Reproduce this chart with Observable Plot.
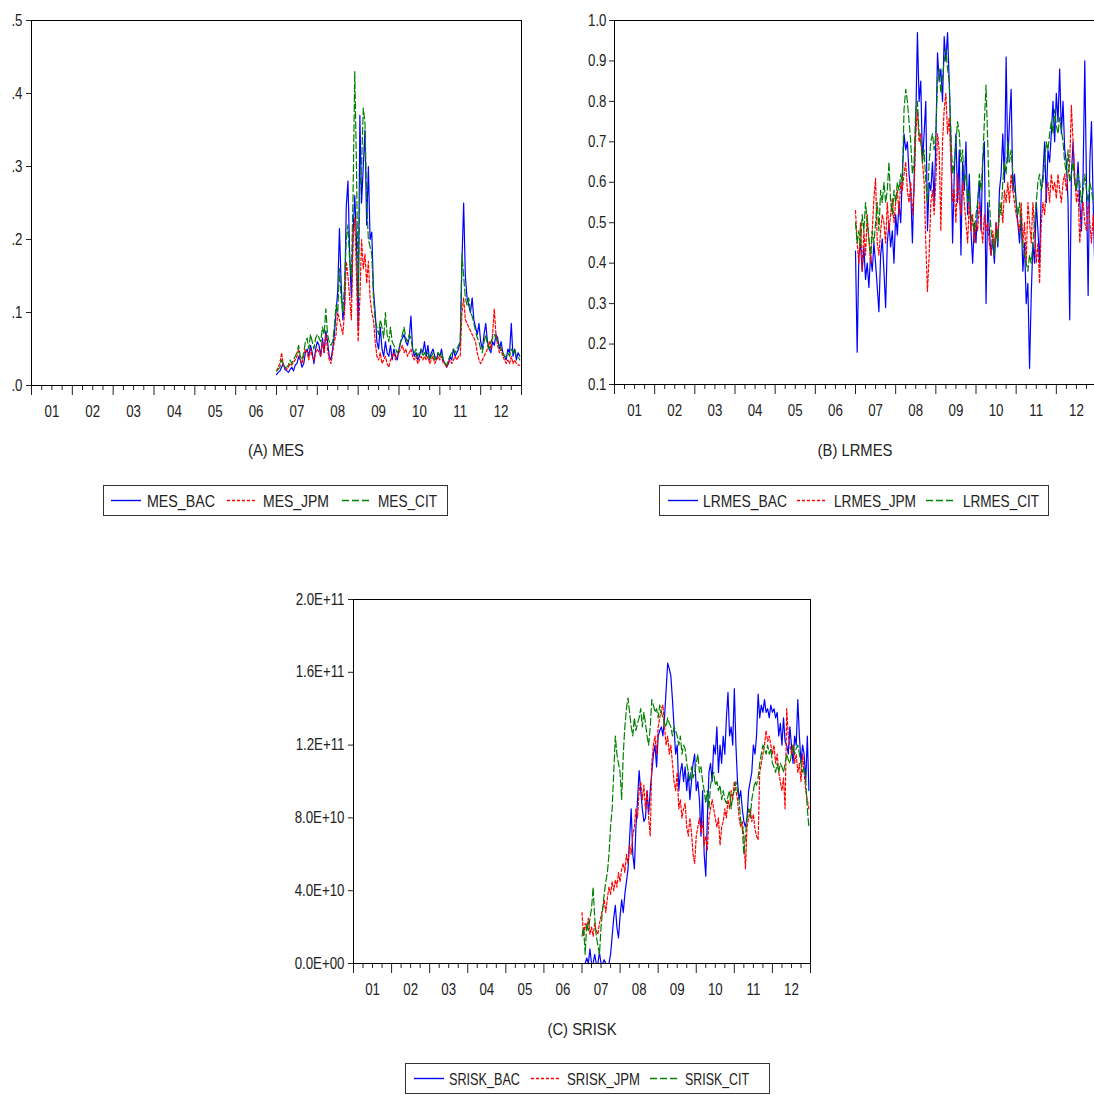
<!DOCTYPE html>
<html><head><meta charset="utf-8">
<script src="https://cdn.jsdelivr.net/npm/d3@7"></script>
<script src="https://cdn.jsdelivr.net/npm/@observablehq/plot@0.6"></script>
<style>
html,body{margin:0;padding:0;background:#fff;}
body{width:1094px;height:1096px;overflow:hidden;position:relative;font-family:"Liberation Sans",Arial,sans-serif;color:#222;}
.title{position:absolute;font-size:17px;transform:translateX(-50%) scaleX(0.87);transform-origin:50% 50%;white-space:nowrap;}
.legend{position:absolute;overflow:visible;}
.legend text{font-family:"Liberation Sans",Arial,sans-serif;font-size:17px;fill:#222;}
</style></head><body>
<script>
const FONT = '"Liberation Sans",Arial,sans-serif';
const SQUEEZE = 0.83; // the original uses a narrow typeface
// semi-monthly observations starting Jan 2007
const START_YEAR = 2007, STEP = 1 / 24;
const yearLabels = ["01","02","03","04","05","06","07","08","09","10","11","12"];

const mesTicks = [0, 0.1, 0.2, 0.3, 0.4, 0.5];
const mesTickLabels = [".0", ".1", ".2", ".3", ".4", ".5"];
const lrTicks = [0.1, 0.2, 0.3, 0.4, 0.5, 0.6, 0.7, 0.8, 0.9, 1.0];
const lrTickLabels = ["0.1","0.2","0.3","0.4","0.5","0.6","0.7","0.8","0.9","1.0"];
const srTicks = [0, 4e10, 8e10, 1.2e11, 1.6e11, 2e11];
const srTickLabels = ["0.0E+00","4.0E+10","8.0E+10","1.2E+11","1.6E+11","2.0E+11"];

const MES_BAC = [
0.015,0.018,0.02,0.025,0.03,0.022,0.02,0.018,0.022,0.025,0.02,0.028,0.03,0.04,0.035,0.025,0.03,0.045,0.05,0.04,0.055,0.045,0.03,0.05,
0.06,0.055,0.04,0.065,0.045,0.075,0.06,0.04,0.035,0.05,0.07,0.1,0.13,0.215,0.14,0.09,0.11,0.245,0.28,0.18,0.12,0.21,0.26,0.2,
0.08,0.37,0.25,0.3,0.35,0.22,0.3,0.2,0.21,0.13,0.1,0.06,0.05,0.08,0.05,0.04,0.06,0.045,0.04,0.055,0.035,0.05,0.04,0.035,
0.05,0.06,0.065,0.07,0.06,0.055,0.065,0.095,0.05,0.04,0.045,0.035,0.04,0.05,0.045,0.06,0.04,0.055,0.035,0.045,0.05,0.04,0.035,0.045,
0.04,0.05,0.035,0.03,0.025,0.03,0.04,0.035,0.05,0.04,0.045,0.05,0.06,0.17,0.25,0.15,0.12,0.11,0.1,0.12,0.09,0.08,0.07,0.085,
0.06,0.05,0.07,0.085,0.06,0.05,0.045,0.06,0.055,0.07,0.065,0.05,0.06,0.045,0.04,0.035,0.05,0.045,0.085,0.04,0.05,0.035,0.045,0.04];
const MES_JPM = [
0.02,0.025,0.03,0.045,0.028,0.025,0.022,0.025,0.03,0.028,0.032,0.035,0.04,0.05,0.035,0.03,0.04,0.05,0.045,0.035,0.05,0.04,0.035,0.045,
0.05,0.045,0.04,0.06,0.045,0.07,0.05,0.035,0.03,0.045,0.06,0.07,0.1,0.09,0.08,0.07,0.1,0.17,0.15,0.12,0.09,0.2,0.23,0.15,
0.06,0.12,0.2,0.16,0.18,0.14,0.17,0.12,0.1,0.09,0.06,0.04,0.035,0.045,0.03,0.035,0.04,0.03,0.025,0.035,0.04,0.045,0.035,0.04,
0.045,0.05,0.055,0.045,0.05,0.04,0.045,0.05,0.04,0.035,0.04,0.03,0.035,0.04,0.035,0.04,0.035,0.04,0.03,0.035,0.04,0.03,0.035,0.04,
0.035,0.04,0.03,0.03,0.025,0.03,0.035,0.03,0.035,0.04,0.035,0.04,0.04,0.1,0.12,0.09,0.085,0.08,0.075,0.07,0.065,0.06,0.045,0.035,
0.03,0.035,0.04,0.045,0.05,0.06,0.05,0.07,0.105,0.07,0.055,0.045,0.05,0.04,0.035,0.03,0.035,0.03,0.04,0.03,0.035,0.03,0.028,0.028];
const MES_CIT = [
0.02,0.022,0.025,0.035,0.03,0.025,0.025,0.028,0.035,0.03,0.035,0.04,0.045,0.055,0.04,0.035,0.045,0.06,0.065,0.05,0.07,0.06,0.05,0.065,
0.07,0.065,0.06,0.08,0.07,0.105,0.07,0.06,0.055,0.06,0.08,0.11,0.1,0.16,0.12,0.1,0.14,0.2,0.22,0.17,0.15,0.26,0.43,0.3,
0.12,0.27,0.3,0.38,0.36,0.25,0.2,0.19,0.18,0.12,0.09,0.08,0.07,0.09,0.08,0.065,0.1,0.07,0.06,0.08,0.06,0.055,0.05,0.045,
0.05,0.06,0.07,0.08,0.065,0.06,0.07,0.065,0.05,0.045,0.05,0.04,0.045,0.05,0.04,0.045,0.04,0.045,0.035,0.04,0.045,0.035,0.04,0.045,
0.04,0.045,0.035,0.03,0.028,0.035,0.04,0.045,0.05,0.045,0.05,0.055,0.06,0.18,0.15,0.12,0.11,0.12,0.1,0.095,0.085,0.075,0.065,0.06,
0.05,0.045,0.06,0.07,0.055,0.05,0.06,0.065,0.07,0.065,0.06,0.055,0.05,0.045,0.04,0.04,0.045,0.04,0.05,0.045,0.05,0.04,0.04,0.035];

const LRMES_BAC = [
0.43,0.18,0.42,0.45,0.38,0.44,0.36,0.40,0.34,0.42,0.38,0.45,0.40,0.34,0.28,0.42,0.46,0.38,0.29,0.45,0.50,0.44,0.48,0.40,
0.52,0.47,0.55,0.50,0.62,0.72,0.68,0.70,0.62,0.58,0.45,0.60,0.75,0.97,0.80,0.85,0.65,0.72,0.80,0.48,0.60,0.58,0.65,0.55,
0.70,0.92,0.85,0.88,0.80,0.96,0.90,0.97,0.85,0.70,0.45,0.62,0.72,0.55,0.68,0.42,0.65,0.58,0.70,0.52,0.62,0.48,0.40,0.50,
0.45,0.55,0.60,0.48,0.65,0.70,0.30,0.55,0.48,0.42,0.46,0.40,0.50,0.44,0.58,0.62,0.72,0.60,0.91,0.65,0.75,0.83,0.58,0.62,
0.55,0.50,0.45,0.52,0.38,0.45,0.30,0.35,0.14,0.32,0.45,0.40,0.55,0.48,0.40,0.58,0.62,0.70,0.55,0.68,0.65,0.72,0.80,0.70,
0.82,0.75,0.88,0.72,0.80,0.68,0.65,0.55,0.26,0.62,0.70,0.60,0.58,0.65,0.55,0.48,0.62,0.90,0.60,0.32,0.65,0.75,0.55,0.38];
const LRMES_JPM = [
0.53,0.45,0.40,0.50,0.38,0.48,0.42,0.52,0.46,0.40,0.48,0.56,0.61,0.45,0.42,0.48,0.52,0.50,0.45,0.55,0.48,0.52,0.56,0.50,
0.55,0.58,0.52,0.60,0.58,0.62,0.65,0.58,0.55,0.60,0.52,0.58,0.72,0.78,0.70,0.72,0.65,0.60,0.45,0.33,0.42,0.55,0.58,0.52,
0.60,0.72,0.68,0.48,0.70,0.78,0.82,0.72,0.76,0.65,0.55,0.58,0.50,0.62,0.56,0.52,0.60,0.55,0.50,0.45,0.55,0.48,0.52,0.45,
0.50,0.48,0.55,0.50,0.45,0.52,0.48,0.50,0.45,0.42,0.48,0.44,0.50,0.46,0.52,0.55,0.50,0.58,0.55,0.60,0.55,0.62,0.58,0.55,
0.52,0.50,0.48,0.55,0.45,0.50,0.40,0.55,0.50,0.45,0.55,0.48,0.40,0.45,0.35,0.50,0.55,0.52,0.58,0.60,0.55,0.62,0.58,0.60,
0.56,0.62,0.58,0.55,0.60,0.62,0.58,0.62,0.65,0.79,0.70,0.62,0.55,0.58,0.45,0.52,0.55,0.50,0.48,0.55,0.50,0.45,0.52,0.45];
const LRMES_CIT = [
0.50,0.45,0.48,0.44,0.52,0.48,0.55,0.50,0.46,0.42,0.48,0.45,0.50,0.55,0.48,0.58,0.55,0.60,0.55,0.58,0.65,0.55,0.52,0.58,
0.55,0.60,0.58,0.62,0.60,0.78,0.83,0.80,0.75,0.70,0.62,0.65,0.78,0.80,0.72,0.70,0.65,0.68,0.60,0.55,0.65,0.70,0.72,0.68,
0.72,0.85,0.88,0.82,0.86,0.90,0.93,0.88,0.85,0.72,0.62,0.65,0.70,0.75,0.72,0.65,0.68,0.60,0.62,0.55,0.58,0.52,0.50,0.48,
0.52,0.55,0.62,0.58,0.65,0.75,0.84,0.70,0.55,0.48,0.45,0.42,0.48,0.45,0.55,0.52,0.60,0.65,0.62,0.70,0.65,0.68,0.62,0.58,
0.55,0.52,0.55,0.48,0.45,0.42,0.40,0.38,0.42,0.40,0.45,0.50,0.55,0.60,0.62,0.58,0.60,0.65,0.70,0.68,0.72,0.75,0.72,0.78,
0.74,0.72,0.76,0.73,0.70,0.65,0.62,0.68,0.60,0.62,0.65,0.60,0.58,0.62,0.60,0.55,0.58,0.62,0.58,0.55,0.60,0.58,0.55,0.55];

// SRISK in units of 1e10
const SRISK_UNIT = 1e10;
const SRISK_BAC = [
0,0,0,0.3,0,0.8,0,0,0.5,0,0,0.6,0,0,0.2,0,0,0,0.5,1.5,2.5,3.2,2.0,1.4,
2.6,3.5,2.8,3.8,4.5,5.2,6.9,8.5,6.0,5.2,7.5,9.0,10.6,9.5,8.5,7.8,8.0,9.5,8.2,9.5,10.5,11.5,12.0,10.8,
12.5,12.8,13.0,12.5,13.5,15.0,16.5,16.2,15.8,14.5,13.0,11.5,12.0,9.5,10.5,11.0,10.0,10.8,9.5,10.5,9.0,10.0,11.0,11.5,
9.5,10.0,9.0,7.0,9.5,6.0,4.8,8.0,10.5,11.0,10.0,12.0,11.5,13.0,10.5,12.0,11.0,12.5,11.5,13.5,14.9,12.5,13.0,12.0,
15.1,12.0,10.0,9.0,9.5,8.5,7.8,7.5,8.0,9.5,10.0,10.5,12.0,11.5,12.5,14.8,13.5,14.2,13.8,14.5,13.8,14.0,13.5,14.2,
13.8,14.0,13.5,13.8,12.5,13.2,12.0,13.5,12.2,12.0,11.5,13.0,12.0,11.0,12.5,12.0,14.5,12.5,11.0,12.0,11.5,10.0,12.5,9.5];
const SRISK_JPM = [
2.8,1.5,2.2,1.8,2.5,1.6,2.0,1.5,2.2,1.8,1.6,2.2,2.6,3.0,3.5,2.8,3.6,4.2,3.8,4.5,4.0,4.6,4.2,5.0,
4.5,5.2,5.5,5.0,6.0,5.5,6.5,6.0,7.0,7.5,8.5,8.0,9.5,10.0,9.0,9.8,8.5,9.5,8.0,7.0,11.0,12.0,12.5,11.5,
13.0,13.5,14.0,14.2,13.0,12.0,12.5,11.5,12.0,11.0,10.0,9.5,10.5,8.5,9.0,8.0,8.5,8.8,7.5,7.0,8.0,7.2,6.0,5.5,
7.0,7.5,8.0,7.2,7.8,6.5,7.0,6.2,8.0,8.5,9.0,8.5,8.0,7.5,8.0,6.5,7.5,7.8,8.5,8.0,9.0,8.5,9.5,9.0,
10.0,9.5,9.0,8.0,7.5,7.8,7.0,5.2,7.5,8.0,8.5,7.8,8.2,7.4,7.0,6.8,10.5,11.0,11.5,12.0,12.8,12.2,12.5,12.0,
11.5,12.0,11.0,11.5,10.5,10.0,9.5,10.2,8.5,14.0,12.5,12.0,11.5,12.0,11.0,11.5,10.5,11.0,10.0,11.5,10.5,9.5,9.0,8.5];
const SRISK_CIT = [
1.5,2.0,0.5,2.2,1.8,2.5,3.0,4.2,2.5,1.5,1.0,0.5,2.0,3.0,3.8,4.5,5.0,6.0,7.5,8.5,10.5,12.5,11.5,11.0,
10.5,9.0,11.5,13.0,14.0,14.6,13.8,13.0,12.5,13.5,12.8,13.2,13.5,14.0,13.0,13.8,13.2,12.5,12.0,13.0,14.5,14.2,13.8,14.0,
13.5,14.2,13.8,13.5,13.2,13.0,13.5,13.2,13.0,12.5,13.0,12.8,12.5,12.0,12.5,11.5,12.0,11.8,11.0,10.5,10.0,10.8,10.2,10.5,
11.0,11.5,10.5,10.8,10.0,9.5,8.8,9.5,8.5,9.8,10.2,10.5,9.8,10.0,9.5,9.8,9.0,9.5,9.0,8.8,9.2,9.5,8.5,9.2,
9.5,10.0,9.5,9.0,7.8,7.5,6.0,7.0,8.0,8.5,8.0,9.0,9.5,10.0,9.8,10.2,11.0,11.5,12.0,11.8,11.5,12.0,11.5,11.8,
11.0,10.8,10.5,11.0,10.5,11.0,10.8,10.5,11.0,11.5,11.2,11.0,11.5,12.0,11.5,11.8,12.0,11.5,11.0,10.5,10.8,10.0,8.5,7.5];

const BLUE = "#0000ff", RED = "#ff0000", GREEN = "#008000";
const DASH_JPM = "3,2", DASH_CIT = "7,3";

const yearTicks = d3.range(2001, 2014);
const quarterTicks = [];
for (let y = 2001; y < 2013; y++) for (let q = 1; q < 4; q++) quarterTicks.push(y + q / 4);
const yearMids = d3.range(2001, 2013).map(y => y + 0.5);

function squeezeText(root, factor) {
  root.querySelectorAll("text").forEach(t => {
    if (!t.textContent) return;
    const L = t.getComputedTextLength();
    if (L > 0) {
      t.setAttribute("textLength", (L * factor).toFixed(2));
      t.setAttribute("lengthAdjust", "spacingAndGlyphs");
    }
  });
}

function makePanel(cfg) {
  const marks = [
    Plot.axisX({ticks: quarterTicks, tickSize: 5, tickFormat: () => "", label: null}),
    Plot.axisX({ticks: yearTicks, tickSize: 10, tickFormat: () => "", label: null}),
    Plot.axisX({ticks: yearMids, tickSize: 0, tickPadding: 20, label: null,
      tickFormat: d => yearLabels[Math.floor(d) - 2001]}),
    Plot.axisY({ticks: cfg.yTicks, tickSize: 5, tickPadding: cfg.pad, label: null,
      tickFormat: d => cfg.yLabels[cfg.yTicks.indexOf(d)]})
  ];
  cfg.series.forEach(s => {
    const rows = s.values.map((v, i) => ({t: START_YEAR + i * STEP, v: v * (cfg.unit || 1)}));
    marks.push(Plot.lineY(rows, {x: "t", y: "v", stroke: s.color, strokeWidth: 1.2,
      strokeDasharray: s.dash || null}));
  });
  marks.push(Plot.frame({stroke: "#000"}));
  const svg = Plot.plot({
    width: cfg.width, height: cfg.height,
    marginTop: cfg.mt, marginBottom: cfg.mb, marginLeft: cfg.ml, marginRight: cfg.mr,
    x: {domain: [2001, 2013]},
    y: {domain: cfg.yDomain},
    style: {fontFamily: FONT, fontSize: "16px", color: "#222", background: "transparent", overflow: "visible"},
    marks
  });
  svg.style.position = "absolute";
  svg.style.left = cfg.left + "px";
  svg.style.top = cfg.top + "px";
  document.body.appendChild(svg);
  squeezeText(svg, SQUEEZE);
}

function addTitle(text, cx, top) {
  const d = document.createElement("div");
  d.className = "title"; d.textContent = text;
  d.style.left = cx + "px"; d.style.top = top + "px";
  document.body.appendChild(d);
}
// legend layout: box position/size, sample x offsets, text x offsets and text widths
function addLegend(names, styles, box, sx, tx, tw) {
  let html = `<svg class="legend" width="${box.w + 2}" height="${box.h + 2}" style="left:${box.x - 1}px;top:${box.y - 1}px">` +
    `<rect x="1.5" y="1.5" width="${box.w - 1}" height="${box.h - 1}" fill="none" stroke="#333" stroke-width="1"/>`;
  names.forEach((name, i) => {
    const st = styles[i];
    html += `<line x1="${sx[i]}" x2="${sx[i] + 30}" y1="16.5" y2="16.5" stroke="${st.color}" stroke-width="1.4"${st.dash ? ` stroke-dasharray="${st.dash}"` : ""}/>`;
    html += `<text x="${tx[i]}" y="22.5" textLength="${tw[i]}" lengthAdjust="spacingAndGlyphs">${name}</text>`;
  });
  html += `</svg>`;
  document.body.insertAdjacentHTML("beforeend", html);
}
const seriesStyles = [{color: BLUE}, {color: RED, dash: DASH_JPM}, {color: GREEN, dash: DASH_CIT}];

// (A) MES
makePanel({left: 0, top: 0, width: 540, height: 430, mt: 20, mb: 45, ml: 31, mr: 19,
  yDomain: [0, 0.5], yTicks: mesTicks, yLabels: mesTickLabels, pad: 4,
  series: [{values: MES_BAC, ...seriesStyles[0]}, {values: MES_JPM, ...seriesStyles[1]}, {values: MES_CIT, ...seriesStyles[2]}]});
addTitle("(A) MES", 276, 441);
addLegend(["MES_BAC", "MES_JPM", "MES_CIT"], seriesStyles, {x: 103, y: 485, w: 345, h: 31},
  [9, 125, 240], [45, 161, 276], [68, 66, 59]);

// (B) LRMES
makePanel({left: 578, top: 0, width: 520, height: 430, mt: 20, mb: 46, ml: 36, mr: 2,
  yDomain: [0.1, 1.0], yTicks: lrTicks, yLabels: lrTickLabels, pad: 3,
  series: [{values: LRMES_BAC, ...seriesStyles[0]}, {values: LRMES_JPM, ...seriesStyles[1]}, {values: LRMES_CIT, ...seriesStyles[2]}]});
addTitle("(B) LRMES", 855, 441);
addLegend(["LRMES_BAC", "LRMES_JPM", "LRMES_CIT"], seriesStyles, {x: 659, y: 485, w: 390, h: 31},
  [10, 139, 268], [45, 176, 305], [84, 82, 76]);

// (C) SRISK
makePanel({left: 300, top: 579, width: 530, height: 430, mt: 20, mb: 46, ml: 53, mr: 20, unit: SRISK_UNIT,
  yDomain: [0, 2e11], yTicks: srTicks, yLabels: srTickLabels, pad: 4,
  series: [{values: SRISK_BAC, ...seriesStyles[0]}, {values: SRISK_JPM, ...seriesStyles[1]}, {values: SRISK_CIT, ...seriesStyles[2]}]});
addTitle("(C) SRISK", 582, 1020);
addLegend(["SRISK_BAC", "SRISK_JPM", "SRISK_CIT"], seriesStyles, {x: 405, y: 1063, w: 365, h: 31},
  [10, 127, 246], [45, 163, 281], [71, 73, 64]);
</script>
</body></html>
